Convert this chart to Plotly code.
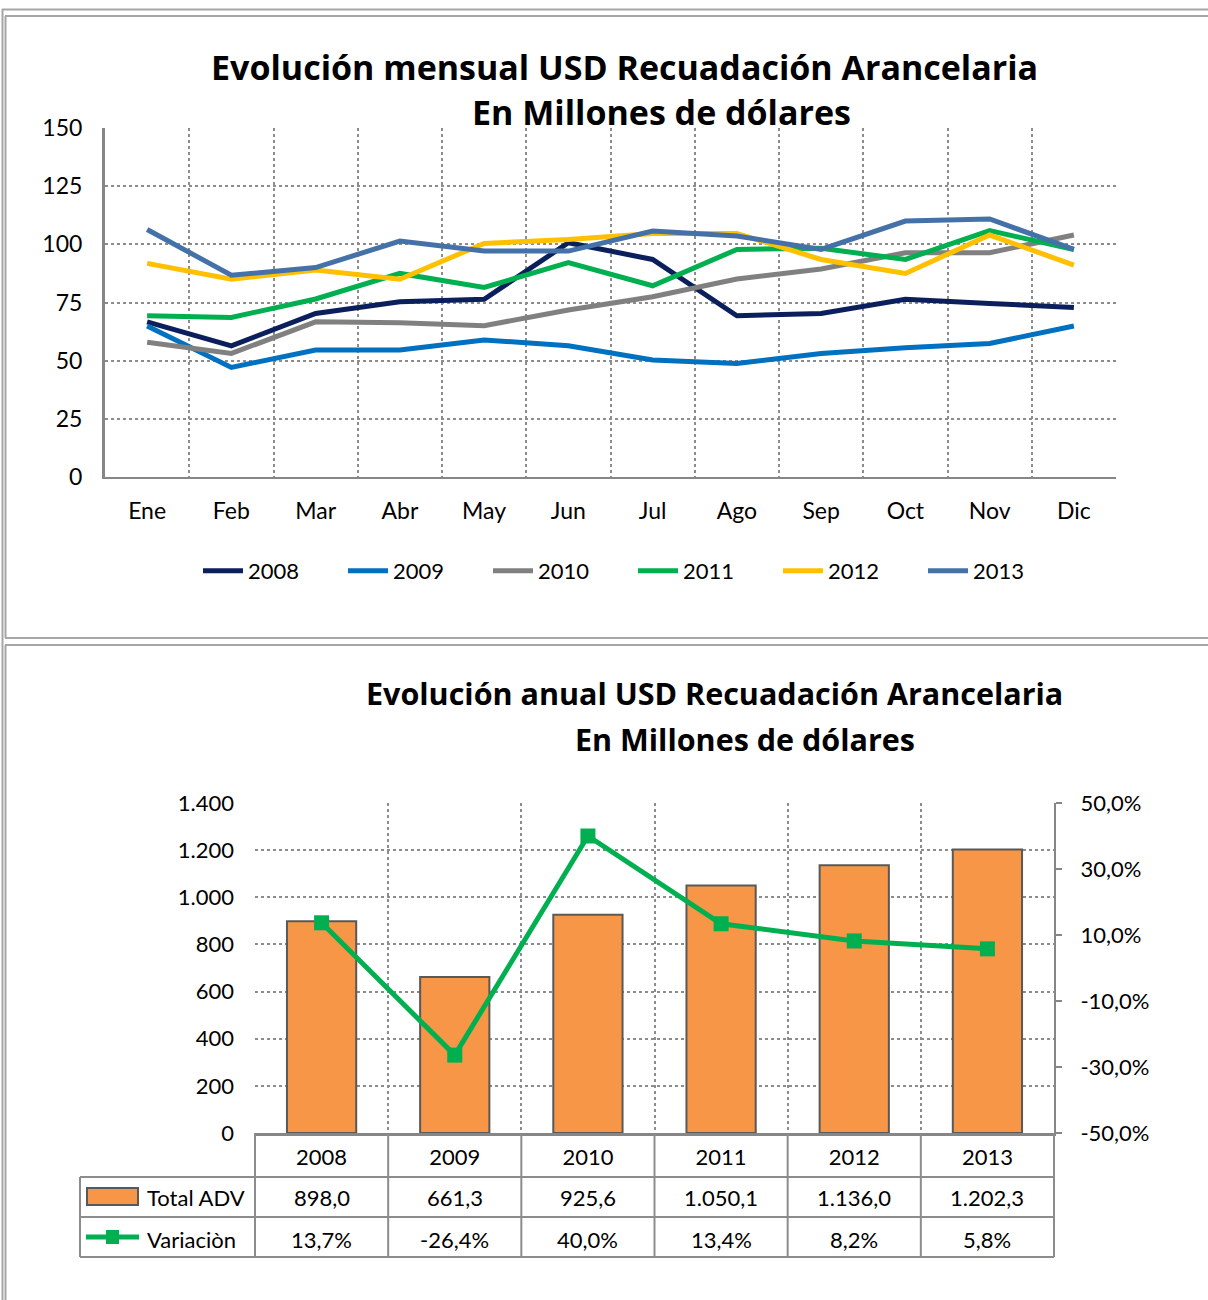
import plotly.graph_objects as go

# ---------------- data ----------------
months = ["Ene", "Feb", "Mar", "Abr", "May", "Jun", "Jul", "Ago", "Sep", "Oct", "Nov", "Dic"]
series_names = ["2008", "2009", "2010", "2011", "2012", "2013"]
v2008 = [66.7, 56.4, 70.3, 75.3, 76.4, 100.7, 93.5, 69.3, 70.3, 76.4, 74.6, 72.9]
v2009 = [64.9, 47.1, 54.6, 54.6, 58.9, 56.4, 50.3, 48.8, 53.1, 55.6, 57.4, 64.9]
v2010 = [57.9, 53.1, 66.7, 66.3, 65.0, 71.8, 77.5, 85.1, 89.4, 96.4, 96.4, 104.0]
v2011 = [69.3, 68.6, 76.5, 87.5, 81.5, 92.1, 82.2, 97.8, 98.3, 93.5, 105.9, 97.8]
v2012 = [91.8, 85.0, 89.0, 85.0, 100.4, 102.1, 104.7, 104.7, 93.5, 87.5, 104.0, 91.1]
v2013 = [106.4, 86.7, 90.0, 101.4, 97.1, 97.1, 105.7, 103.6, 97.8, 110.0, 110.9, 97.8]

years = ["2008", "2009", "2010", "2011", "2012", "2013"]
total_adv = [898.0, 661.3, 925.6, 1050.1, 1136.0, 1202.3]
variacion = [13.7, -26.4, 40.0, 13.4, 8.2, 5.8]
right_ticks = [-50, -30, -10, 10, 30, 50]

title_top = ["Evolución mensual USD Recuadación Arancelaria", "En Millones de dólares"]
title_bot = ["Evolución anual USD Recuadación Arancelaria", "En Millones de dólares"]
row_labels = ["Total ADV", "Variaciòn"]

# ---------------- helpers ----------------
W, H = 1208, 1300
FONT = "Lato"
TFONT = "Open Sans"
GRID = "#8c8c8c"
AXC = "#868686"


def px(x):
    return min(max(x / W, 0), 1)


def py(y):
    return min(max(1 - y / H, 0), 1)


def fmt_num(v):
    s = f"{v:,.1f}"
    return s.replace(",", "#").replace(".", ",").replace("#", ".")


def fmt_pct(v):
    return f"{v:.1f}".replace(".", ",") + "%"


colors = ["#0B1F5C", "#0070C0", "#808080", "#00B050", "#FFC000", "#4472A8"]
values = [v2008, v2009, v2010, v2011, v2012, v2013]

fig = go.Figure()

for name, vals, col in zip(series_names, values, colors):
    fig.add_trace(go.Scatter(
        x=months, y=vals, name=name, mode="lines",
        line=dict(color=col, width=5), xaxis="x", yaxis="y",
        showlegend=True,
    ))

fig.add_trace(go.Bar(
    x=years, y=total_adv, name=row_labels[0], xaxis="x2", yaxis="y2",
    marker=dict(color="#F79646", line=dict(color="#595959", width=2)),
    width=0.52, showlegend=False,
))
fig.add_trace(go.Scatter(
    x=years, y=variacion, name=row_labels[1], xaxis="x2", yaxis="y3",
    mode="lines+markers", line=dict(color="#00B050", width=5),
    marker=dict(symbol="square", size=15, color="#00B050"),
    showlegend=False,
))

# domains
top_x = [px(105), px(1116)]
top_y = [py(477), py(128)]
bot_x = [px(255), px(1054)]
bot_y = [py(1133), py(803)]

tickfont = dict(family=FONT, size=22, color="#000000")
tickfont_top = dict(family=FONT, size=23, color="#000000")

fig.update_layout(
    width=W, height=H,
    margin=dict(l=0, r=0, t=0, b=0, autoexpand=False),
    paper_bgcolor="white", plot_bgcolor="white",
    separators=",.",
    font=dict(family=FONT, color="#000000"),
    xaxis=dict(domain=top_x, anchor="y", type="category", tickson="boundaries",
               showgrid=True, gridcolor=GRID, griddash="dot", gridwidth=1.5,
               showline=True, linecolor=AXC, linewidth=2, ticks="",
               tickfont=tickfont_top, ticklabelstandoff=12, range=[-0.5, 11.5],
               automargin=False),
    yaxis=dict(domain=top_y, anchor="x", range=[0, 150], dtick=25,
               showgrid=True, gridcolor=GRID, griddash="dot", gridwidth=1.5,
               showline=True, linecolor=AXC, linewidth=3, ticks="",
               zeroline=False, tickfont=tickfont_top, ticklabelstandoff=15,
               automargin=False),
    xaxis2=dict(domain=bot_x, anchor="y2", type="category", tickson="boundaries",
                showgrid=True, gridcolor=GRID, griddash="dot", gridwidth=1.5,
                showline=True, linecolor=AXC, linewidth=2.5, ticks="",
                tickfont=tickfont, ticklabelstandoff=3, range=[-0.5, 5.5],
                automargin=False),
    yaxis2=dict(domain=bot_y, anchor="x2", range=[0, 1400], dtick=200,
                tickformat=",d", showgrid=True, gridcolor=GRID, griddash="dot",
                gridwidth=1.5, showline=False, ticks="", zeroline=False,
                tickfont=tickfont, ticklabelstandoff=20, automargin=False),
    yaxis3=dict(anchor="x2", overlaying="y2", side="right", range=[-50, 50],
                tickmode="array", tickvals=right_ticks,
                ticktext=[fmt_pct(t) for t in right_ticks],
                showgrid=False, zeroline=False, showline=True, linecolor=AXC,
                linewidth=2, ticks="outside", ticklen=6, tickcolor=AXC,
                tickwidth=2, tickfont=tickfont, ticklabelstandoff=14,
                automargin=False),
    legend=dict(orientation="h", x=px(198), xanchor="left", y=py(571),
                yanchor="middle", font=dict(family=FONT, size=22, color="#000"),
                entrywidth=90, itemwidth=40, bgcolor="rgba(0,0,0,0)"),
)

shapes = []
BC = "#a6a6a6"


def hline(x0, x1, y, color=BC, w=2):
    shapes.append(dict(type="line", xref="paper", yref="paper",
                       x0=px(x0), x1=px(x1), y0=py(y), y1=py(y),
                       line=dict(color=color, width=w)))


def vline(x, y0, y1, color=BC, w=2):
    shapes.append(dict(type="line", xref="paper", yref="paper",
                       x0=px(x), x1=px(x), y0=py(y0), y1=py(y1),
                       line=dict(color=color, width=w)))


# panel borders
hline(2, 1208, 9.5)
vline(2.5, 9, 1300)
hline(5, 1208, 16)
vline(5.5, 16, 638)
hline(5, 1208, 638)
hline(5, 1208, 645)
vline(5.5, 645, 1300)

# data table grid below bottom chart
TC = "#8c8c8c"
n = len(years)
for i in range(n + 1):
    xb = bot_x[0] + (bot_x[1] - bot_x[0]) * i / n
    shapes.append(dict(type="line", xref="paper", yref="paper",
                       x0=xb, x1=xb, y0=py(1133), y1=py(1257),
                       line=dict(color=TC, width=2)))
for yy in (1177, 1217, 1257):
    hline(80, 1054, yy, TC, 2)
vline(80, 1177, 1257, TC, 2)

# legend keys in the table
shapes.append(dict(type="rect", xref="paper", yref="paper",
                   x0=px(87), x1=px(138), y0=py(1205), y1=py(1188),
                   fillcolor="#F79646", line=dict(color="#595959", width=2)))
shapes.append(dict(type="line", xref="paper", yref="paper",
                   x0=px(86), x1=px(139), y0=py(1237), y1=py(1237),
                   line=dict(color="#00B050", width=5)))
shapes.append(dict(type="rect", xref="paper", yref="paper",
                   x0=px(106), x1=px(119), y0=py(1244), y1=py(1230),
                   fillcolor="#00B050", line=dict(width=0)))

fig.update_layout(shapes=shapes)

ann = []
tf_top = dict(family=TFONT, size=34, color="#000", weight="bold")
tf_bot = dict(family=TFONT, size=30.5, color="#000", weight="bold")
ann.append(dict(text=title_top[0], x=px(625), y=py(67), xref="paper", yref="paper",
                showarrow=False, font=tf_top, xanchor="center", yanchor="middle"))
ann.append(dict(text=title_top[1], x=px(661), y=py(112), xref="paper", yref="paper",
                showarrow=False, font=tf_top, xanchor="center", yanchor="middle"))
ann.append(dict(text=title_bot[0], x=px(714), y=py(693), xref="paper", yref="paper",
                showarrow=False, font=tf_bot, xanchor="center", yanchor="middle"))
ann.append(dict(text=title_bot[1], x=px(745), y=py(739), xref="paper", yref="paper",
                showarrow=False, font=tf_bot, xanchor="center", yanchor="middle"))

cellfont = dict(family=FONT, size=22, color="#000")
for i, (tv, vv) in enumerate(zip(total_adv, variacion)):
    ann.append(dict(text=fmt_num(tv), x=i, xref="x2", y=py(1197), yref="paper",
                    showarrow=False, font=cellfont, xanchor="center", yanchor="middle"))
    ann.append(dict(text=fmt_pct(vv), x=i, xref="x2", y=py(1239), yref="paper",
                    showarrow=False, font=cellfont, xanchor="center", yanchor="middle"))
ann.append(dict(text=row_labels[0], x=px(145), y=py(1197), xref="paper", yref="paper",
                showarrow=False, font=cellfont, xanchor="left", yanchor="middle"))
ann.append(dict(text=row_labels[1], x=px(145), y=py(1239), xref="paper", yref="paper",
                showarrow=False, font=cellfont, xanchor="left", yanchor="middle"))

fig.update_layout(annotations=ann)

fig.write_html("out.html", config={"displayModeBar": False},
               post_script="document.body.style.margin='0';")
